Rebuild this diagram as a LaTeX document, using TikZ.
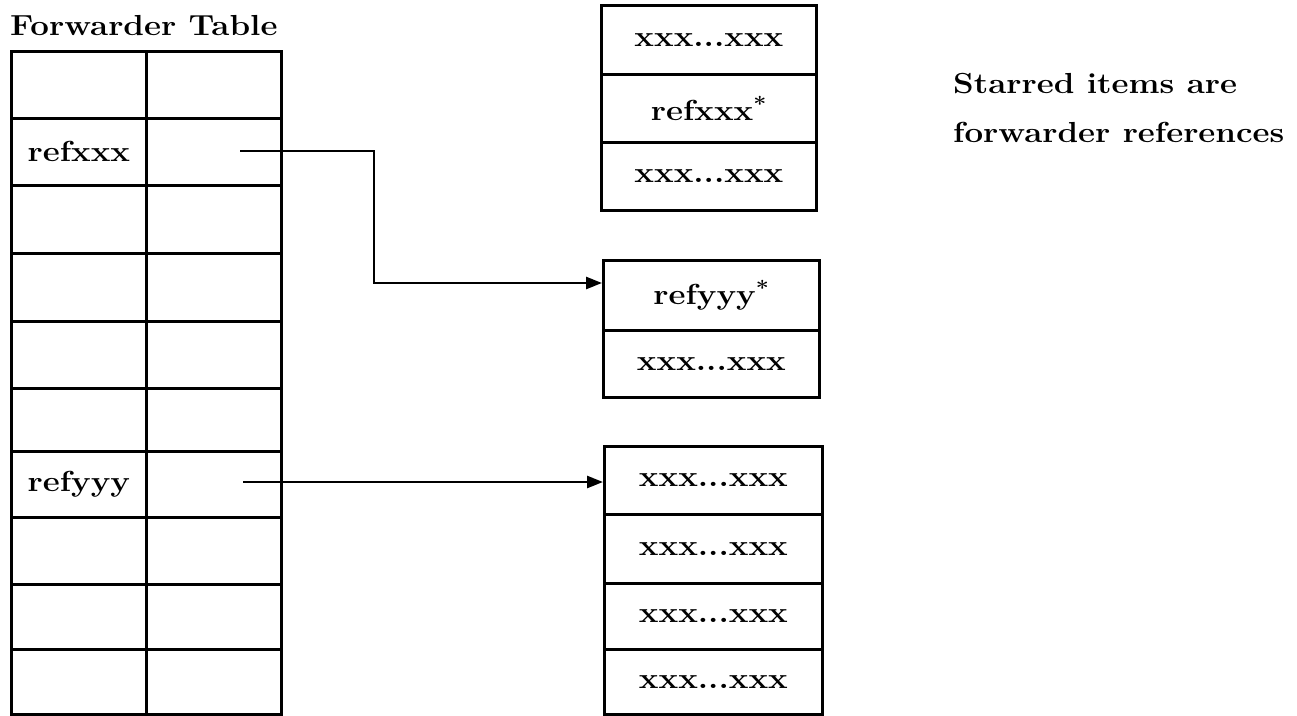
\documentclass[tikz,border=0pt]{standalone}
\usepackage{graphicx}
\usetikzlibrary{arrows.meta}
\newcommand\wtxt[1]{\scalebox{1.14}[1]{#1}}
\begin{document}
\begin{tikzpicture}[x=1pt,y=-1pt,
  cell/.style={draw,line width=2.8pt,rectangle,inner sep=0pt,anchor=north west,
    font=\fontsize{29}{34}\selectfont\bfseries},
  lbl/.style={inner sep=0pt,anchor=base west,font=\fontsize{29}{34}\selectfont\bfseries},
  arr/.style={line width=2.6pt,-{Triangle[length=16pt,width=12pt]}}]
\useasboundingbox (0,0) rectangle (1297,715);
% forwarder table
\foreach \ya/\yb/\t [count=\i] in {50/117/{},117/184/{refxxx},184/252/{},252/320/{},320/387/{},
  387/450/{},450/516/{refyyy},516/583/{},583/648/{},648/713/{}}{
  \pgfmathsetmacro\hh{\yb-\ya}
  \node[cell,minimum width=135pt,minimum height=\hh pt] (L\i) at (10,\ya) {\wtxt{\t}};
  \node[cell,minimum width=135pt,minimum height=\hh pt] (R\i) at (145,\ya) {};
}
% top box
\foreach \ya/\yb/\t [count=\i] in {4/73/{xxx...xxx},73/141/{refxxx\textsuperscript{*}},141/209/{xxx...xxx}}{
  \pgfmathsetmacro\hh{\yb-\ya}
  \node[cell,minimum width=215pt,minimum height=\hh pt] (T\i) at (600,\ya) {\wtxt{\t}};
}
% middle box
\foreach \ya/\yb/\t [count=\i] in {259/329/{refyyy\textsuperscript{*}},329/396/{xxx...xxx}}{
  \pgfmathsetmacro\hh{\yb-\ya}
  \node[cell,minimum width=216pt,minimum height=\hh pt] (M\i) at (602,\ya) {\wtxt{\t}};
}
% bottom box
\foreach \ya/\yb [count=\i] in {445/513,513/582,582/648,648/713}{
  \pgfmathsetmacro\hh{\yb-\ya}
  \node[cell,minimum width=218pt,minimum height=\hh pt] (B\i) at (603,\ya) {\wtxt{xxx...xxx}};
}
% labels
\node[lbl] (title) at (10,35) {\wtxt{Forwarder Table}};
\node[lbl] (n1) at (953,93) {\wtxt{Starred items are}};
\node[lbl] (n2) at (953,142) {\wtxt{forwarder references}};
% connectors
\coordinate (s1) at (240,151);
\coordinate (k1) at (374,283);
\draw[arr] (s1) -| (k1) -- (k1 -| M1.west);
\coordinate (s2) at (243,482);
\draw[arr] (s2) -- (s2 -| B1.west);
\end{tikzpicture}
\end{document}
